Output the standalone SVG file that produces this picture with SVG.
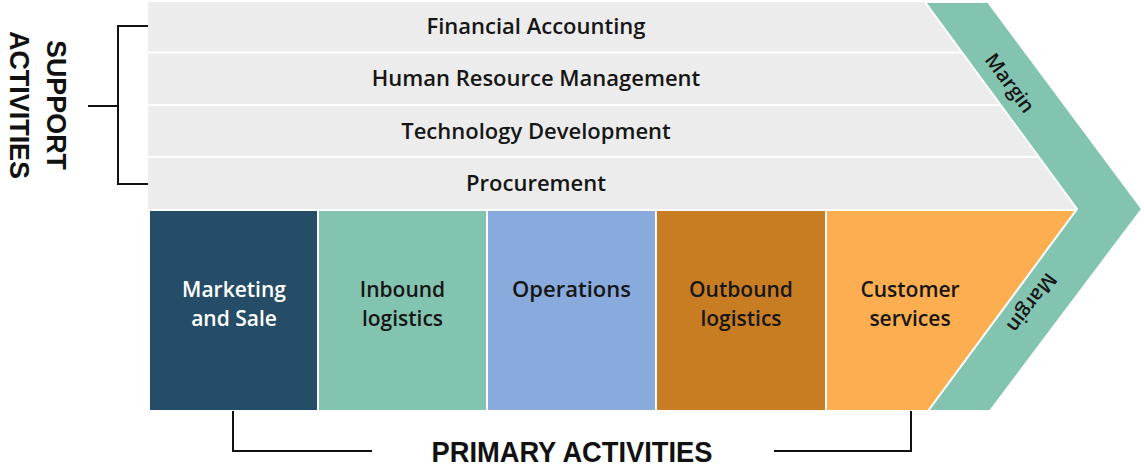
<svg xmlns="http://www.w3.org/2000/svg" width="1144" height="472" viewBox="0 0 1144 472">
<style>
.lbl{font-family:"Open Sans","Noto Sans",sans-serif;font-weight:600;font-size:22px;fill:#161616;text-anchor:middle}
.sm{font-size:21px}
.wht{fill:#ffffff}
.mrg{font-family:"Open Sans","Noto Sans",sans-serif;font-weight:600;font-size:20px;fill:#161616;text-anchor:middle}
.hdr{font-family:"Liberation Sans",Arial,sans-serif;font-weight:700;fill:#111;text-anchor:middle}
.br{fill:none;stroke:#111;stroke-width:2}
.sep{stroke:#fff;stroke-width:2.2}
</style>
<rect width="1144" height="472" fill="#fff"/>
<g id="support">
  <polygon points="148,2 925,2 1077,209 148,209" fill="#ececec"/>
  <line class="sep" x1="148" y1="52.5" x2="1000" y2="52.5"/>
  <line class="sep" x1="148" y1="105" x2="1040" y2="105"/>
  <line class="sep" x1="148" y1="157" x2="1070" y2="157"/>
</g>
<g id="financial"><text class="lbl" x="536" y="34">Financial Accounting</text></g>
<g id="hrm"><text class="lbl" x="536" y="86">Human Resource Management</text></g>
<g id="tech"><text class="lbl" x="536" y="139">Technology Development</text></g>
<g id="procurement"><text class="lbl" x="536" y="191">Procurement</text></g>
<g id="marketing">
  <rect x="150" y="211" width="167" height="199" fill="#264d68"/>
  <text class="lbl sm wht" x="234" y="297">Marketing</text>
  <text class="lbl sm wht" x="234" y="325.5">and Sale</text>
</g>
<g id="inbound">
  <rect x="319" y="211" width="167" height="199" fill="#83c4b0"/>
  <text class="lbl sm" x="402.5" y="297">Inbound</text>
  <text class="lbl sm" x="402.5" y="325.5">logistics</text>
</g>
<g id="operations">
  <rect x="488" y="211" width="167" height="199" fill="#88aadc"/>
  <text class="lbl" x="571.5" y="297">Operations</text>
</g>
<g id="outbound">
  <rect x="657" y="211" width="168" height="199" fill="#c97d23"/>
  <text class="lbl sm" x="741" y="297">Outbound</text>
  <text class="lbl sm" x="741" y="325.5">logistics</text>
</g>
<g id="customer">
  <polygon points="827,211 1075,211 928,410 827,410" fill="#fdae50"/>
  <text class="lbl sm" x="910" y="297">Customer</text>
  <text class="lbl sm" x="910" y="325.5">services</text>
</g>
<g id="margin">
  <polygon points="925,2 988,2 1142,209 990,411 928,411 1077,209" fill="#83c4b0" stroke="#fff" stroke-width="2" stroke-linejoin="miter"/>
  <text class="mrg" transform="translate(1010,83) rotate(53.4)" dy="0.35em">Margin</text>
  <text class="mrg" transform="translate(1032,303) rotate(127)" dy="0.35em">Margin</text>
</g>
<g id="connectors">
  <polyline class="br" points="148,26 118,26 118,184 148,184"/>
  <line class="br" x1="88" y1="106" x2="118" y2="106"/>
  <polyline class="br" points="233,411 233,451 372,451"/>
  <polyline class="br" points="774,451 911,451 911,411"/>
</g>
<g id="support-title">
  <text class="hdr" font-size="28" transform="translate(57,105) rotate(90)" dy="0.36em" textLength="130" lengthAdjust="spacingAndGlyphs">SUPPORT</text>
  <text class="hdr" font-size="28" transform="translate(20,105) rotate(90)" dy="0.36em" textLength="148" lengthAdjust="spacingAndGlyphs">ACTIVITIES</text>
</g>
<g id="primary-title">
  <text class="hdr" font-size="29" x="572" y="462" textLength="281" lengthAdjust="spacingAndGlyphs">PRIMARY ACTIVITIES</text>
</g>
</svg>
